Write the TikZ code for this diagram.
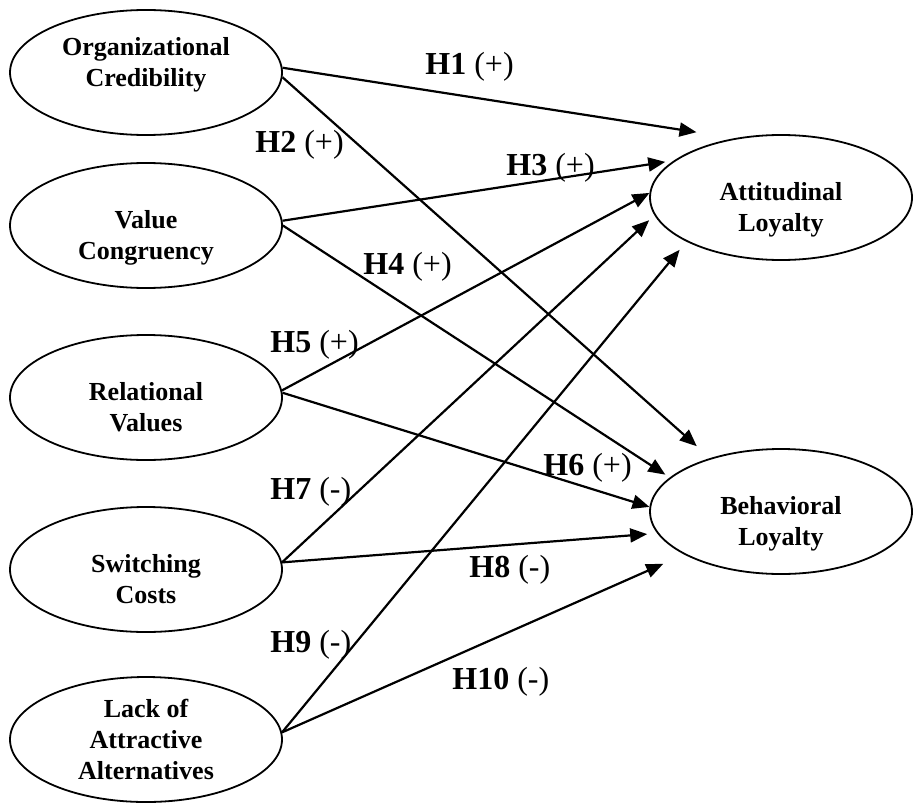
\documentclass[tikz,border=0pt]{standalone}
\usepackage{fontspec}
\setmainfont{Liberation Serif}
\usetikzlibrary{shapes,arrows.meta}
% struts that move the text of an ellipse up or down
\newcommand{\txtdown}[1]{\rule{0pt}{#1}}
\newcommand{\txtup}[1]{\rule[-#1]{0pt}{#1}}

\begin{document}
\begin{tikzpicture} [x=0.5pt, y=-0.5pt, >={Triangle[length=8.5pt,width=7pt]}, factor/.style={ellipse, draw, line width=0.9pt, inner sep=0pt, minimum width=136pt, minimum height=62.5pt, align=center, font=\fontsize{13}{15.5}\selectfont\bfseries}, outcome/.style={factor, minimum width=131pt}, hyp/.style={anchor=base west, inner sep=0pt, font=\fontsize{16}{19}\selectfont}, link/.style={->, line width=1.1pt}]
  \useasboundingbox (0,0) rectangle (913,802);
  %% Antecedents
  \node [factor] (oc) at (146,72.5) {Organizational\\ Credibility\txtup{11pt}};
  \node [factor, below of=oc, node distance=76.5pt] (vc) {\txtdown{21pt}Value\\ Congruency};
  \node [factor, below of=vc, node distance=86pt] (rv) {\txtdown{19pt}Relational\\ Values};
  \node [factor, below of=rv, node distance=86pt] (sc) {\txtdown{19pt}Switching\\ Costs};
  \node [factor, below of=sc, node distance=85pt] (laa) {Lack of\\ Attractive\\ Alternatives};
  %% Loyalty
  \node [outcome] (att) at (781,197.5) {\txtdown{21pt}Attitudinal\\ Loyalty};
  \node [outcome, below of=att, node distance=157pt] (beh) {\txtdown{21pt}Behavioral\\ Loyalty};
  % Draw edges
  \draw [link, shorten >=19.3pt] (oc.2) -- (att.128.1);
  \draw [link, shorten >=8.9pt] (oc.-2) -- (beh.143.3);
  \draw [link, shorten >=4.3pt] (vc.2) -- (att.161.6);
  \draw [link, shorten >=2.6pt] (vc.0) -- (beh.163.7);
  \draw [link] (rv.3) -- (att.178);
  \draw [link] (rv.2) -- (beh.178);
  \draw [link, shorten >=3.6pt] (sc.3) -- (att.188);
  \draw [link, shorten >=5pt] (sc.3) -- (beh.190.5);
  \draw [link, shorten >=5.3pt] (laa.3) -- (att.205.7);
  \draw [link, shorten >=11.5pt] (laa.3) -- (beh.204.4);
  % Hypotheses
  \node [hyp] (h1) at (425,75) {\textbf{H1} (+)};
  \node [hyp] (h2) at (255,153) {\textbf{H2} (+)};
  \node [hyp] (h3) at (506,176) {\textbf{H3} (+)};
  \node [hyp] (h4) at (363,274) {\textbf{H4} (+)};
  \node [hyp] (h5) at (270,352) {\textbf{H5} (+)};
  \node [hyp] (h6) at (543,475) {\textbf{H6} (+)};
  \node [hyp] (h7) at (270,499) {\textbf{H7} (-)};
  \node [hyp] (h8) at (469,577) {\textbf{H8} (-)};
  \node [hyp] (h9) at (270,652) {\textbf{H9} (-)};
  \node [hyp] (h10) at (452,689) {\textbf{H10} (-)};
\end{tikzpicture}
\end{document}
